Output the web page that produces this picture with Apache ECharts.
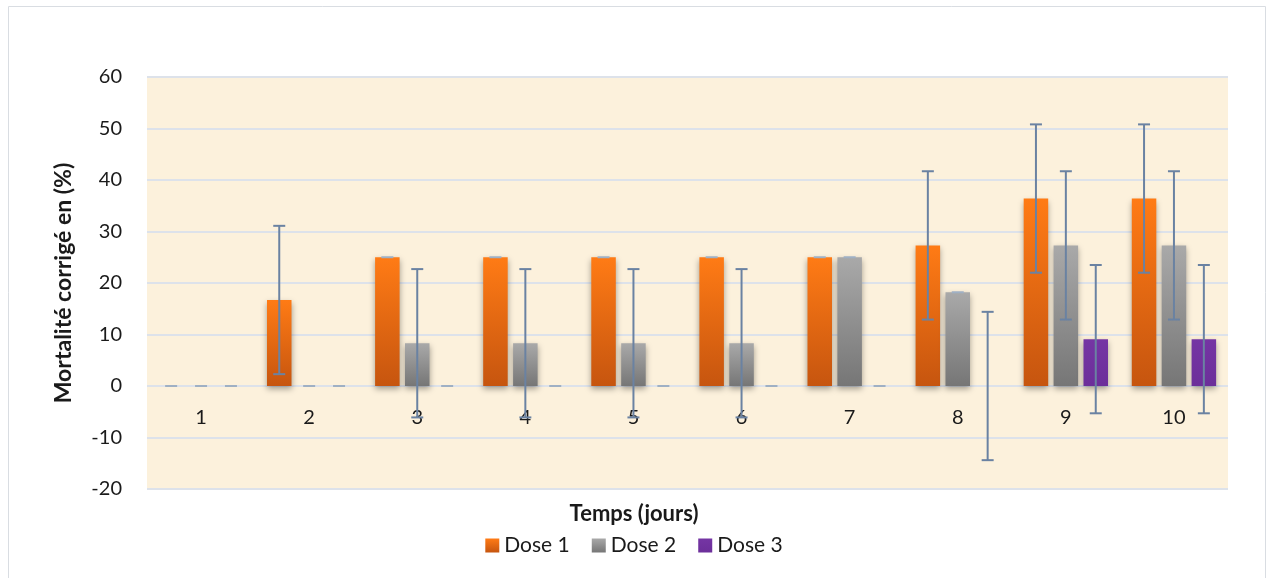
<!DOCTYPE html>
<html><head><meta charset="utf-8">
<script src="https://cdn.jsdelivr.net/npm/echarts@6/dist/echarts.min.js"></script>
<style>html,body{margin:0;padding:0;background:#fff}#c{width:1268px;height:578px}</style>
</head><body><div id="c"></div>
<script>
const categories = ['1','2','3','4','5','6','7','8','9','10'];
const seriesNames = ['Dose 1','Dose 2','Dose 3'];
const dose1 = [0, 16.7, 25, 25, 25, 25, 25, 27.3, 36.4, 36.4];
const dose2 = [0, 0, 8.3, 8.3, 8.3, 8.3, 25, 18.2, 27.3, 27.3];
const dose3 = [0, 0, 0, 0, 0, 0, 0, 0, 9.1, 9.1];
const err1 = [0, 14.4, 0, 0, 0, 0, 0, 14.4, 14.4, 14.4];
const err2 = [0, 0, 14.4, 14.4, 14.4, 14.4, 0, 0, 14.4, 14.4];
const err3 = [0, 0, 0, 0, 0, 0, 0, 14.4, 14.4, 14.4];
const yTicks = {min: -20, max: 60, interval: 10};

const values = [dose1, dose2, dose3];
const errs = [err1, err2, err3];
const CAT_GAP = 0.22, BAR_GAP = 0.22;
const FONT = 'Lato';

const colors = [
  {type:'linear',x:0,y:0,x2:0,y2:1,colorStops:[{offset:0,color:'#ff7b15'},{offset:1,color:'#c6550f'}]},
  {type:'linear',x:0,y:0,x2:0,y2:1,colorStops:[{offset:0,color:'#a9a9a9'},{offset:1,color:'#767676'}]},
  {type:'linear',x:0,y:0,x2:0,y2:1,colorStops:[{offset:0,color:'#7535a4'},{offset:1,color:'#6c2f9a'}]}
];

const barSeries = seriesNames.map((n, i) => ({
  name: n, type: 'bar', data: values[i],
  barGap: (BAR_GAP*100)+'%', barCategoryGap: (CAT_GAP*100)+'%',
  itemStyle: {color: colors[i], shadowColor: 'rgba(0,0,0,0.35)', shadowBlur: 6, shadowOffsetY: 3},
  z: 2
}));

const errSeries = seriesNames.map((n, i) => ({
  type: 'custom', name: n + ' err', z: 5, silent: true,
  data: values[i].map((v, k) => [k, v, errs[i][k]]),
  renderItem: function (params, api) {
    const k = api.value(0), v = api.value(1), e = api.value(2);
    const bw = api.size([1, 0])[0];
    const w = bw * (1 - CAT_GAP) / (3 + 2 * BAR_GAP);
    const off = (i - 1) * w * (1 + BAR_GAP);
    const top = api.coord([k, v + e]);
    const bot = api.coord([k, v - e]);
    const x = top[0] + off;
    const cw = 6;
    const st = {stroke: '#6a82a2', lineWidth: 2};
    const ch = [];
    if (e > 0) ch.push({type: 'line', shape: {x1: x, y1: top[1], x2: x, y2: bot[1]}, style: st});
    ch.push({type: 'line', shape: {x1: x - cw, y1: top[1], x2: x + cw, y2: top[1]}, style: e > 0 ? st : {stroke: '#9fb0c4', lineWidth: 2}});
    if (e > 0) ch.push({type: 'line', shape: {x1: x - cw, y1: bot[1], x2: x + cw, y2: bot[1]}, style: st});
    return {type: 'group', children: ch};
  }
}));

// category labels placed next to the zero line (as in the original)
const labelSeries = {
  type: 'custom', silent: true, z: 4,
  data: categories.map((c, k) => [k, 0]),
  renderItem: function (params, api) {
    const p = api.coord([api.value(0), api.value(1)]);
    return {type: 'text', x: p[0], y: p[1] + 32, style: {
      text: categories[params.dataIndex], textAlign: 'center', textVerticalAlign: 'middle',
      fontFamily: FONT, fontSize: 20, fill: '#1a1a1a'}};
  }
};

const chart = echarts.init(document.getElementById('c'), null, {renderer: 'canvas'});
chart.setOption({
  animation: false,
  textStyle: {fontFamily: FONT},
  grid: {left: 147, right: 40, top: 77, bottom: 89, show: true, backgroundColor: '#fcf1dc', borderWidth: 0},
  graphic: [
    {type: 'rect', shape: {x: 8.5, y: 6.5, width: 1257, height: 575}, style: {fill: 'none', stroke: '#d9dde2', lineWidth: 1}, z: -10}
  ],
  title: {text: 'Temps (jours)', left: 'center', top: 498, textStyle: {fontFamily: FONT, fontSize: 22, fontWeight: 'bold', color: '#1a1a1a'}},
  legend: {
    data: seriesNames, bottom: 17, left: 'center', itemWidth: 14, itemHeight: 14, itemGap: 22,
    icon: 'rect', textStyle: {fontFamily: FONT, fontSize: 21, color: '#1a1a1a'}
  },
  xAxis: {
    type: 'category', data: categories,
    axisLine: {show: false}, axisTick: {show: false},
    axisLabel: {show: false},
    splitLine: {show: false}
  },
  yAxis: {
    type: 'value', min: yTicks.min, max: yTicks.max, interval: yTicks.interval,
    name: 'Mortalité corrigé en (%)', nameLocation: 'middle', nameGap: 72, nameRotate: 90,
    nameTextStyle: {fontFamily: FONT, fontSize: 23, fontWeight: 'bold', color: '#1a1a1a'},
    axisLine: {show: false}, axisTick: {show: false},
    axisLabel: {margin: 25, fontFamily: FONT, fontSize: 20, color: '#1a1a1a'},
    splitLine: {lineStyle: {color: '#dde2ea', width: 2}}
  },
  series: barSeries.concat(errSeries, [labelSeries])
});
</script></body></html>
